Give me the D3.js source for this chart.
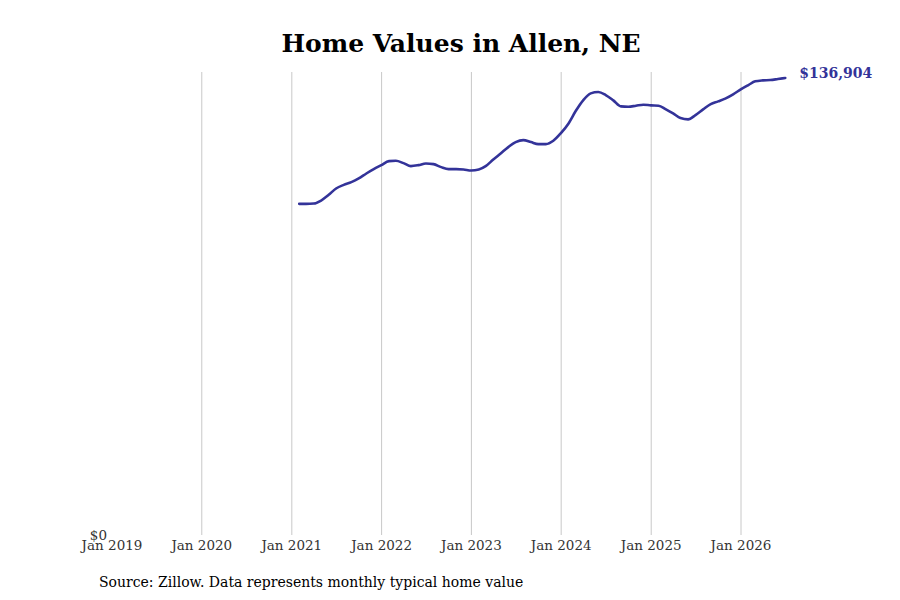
<!DOCTYPE html>
<html>
<head>
<meta charset="utf-8">
<script src="https://cdn.jsdelivr.net/npm/d3@7"></script>
<style>
  body { margin: 0; background: #fff; }
  svg { display: block; }
</style>
</head>
<body>
<div id="chart-area"></div>
<script>
// monthly typical home value, end of month, Jan 2021 onward
var startMonth = "2021-01-31"
var values = [
  99200, 99200, 99300, 100200, 101900, 103800, 104900, 105700, 106800, 108300, 109600, 110800,
  112000, 112100, 111400, 110500, 110800, 111300, 111100, 110200, 109600, 109600, 109500, 109200,
  109500, 110500, 112500, 114300, 116200, 117700, 118300, 117700, 117100, 117100, 118100, 120400,
  123300, 127000, 130300, 132300, 132700, 131800, 130200, 128400, 128300, 128600, 128900, 128700,
  128600, 127600, 126300, 124900, 124500, 125800, 127500, 129100, 129900, 130800, 132000, 133500,
  134800, 135900, 136200, 136300, 136600, 136904
]
var tickYears = [2019, 2020, 2021, 2022, 2023, 2024, 2025, 2026]

var width = 900
var height = 600
var margin = {top: 72, right: 159, bottom: 65, left: 112}

var svg = d3.select("#chart-area").append("svg")
.attr("width", width)
.attr("height", height)

var innerW = width - margin.left - margin.right
var innerH = height - margin.top - margin.bottom

var g = svg.append("g")
.attr("transform", "translate(" + margin.left + ", " + margin.top + ")")

var parse = d3.timeParse("%Y-%m-%d")
var start = parse(startMonth)
var data = values.map((v, i) => {
	var d = new Date(start.getFullYear(), start.getMonth() + i + 1, 0)
	return {date: d, value: v}
})

var x = d3.scaleTime()
.domain([new Date(2019, 0, 1), new Date(2026, 0, 1)])
.range([0, 629])

var y = d3.scaleLinear()
.domain([0, 136904 * 463 / 457])
.range([innerH, 0])

// Title
svg.append("text")
.attr("x", 461)
.attr("y", 52)
.attr("text-anchor", "middle")
.attr("font-family", "DejaVu Serif")
.attr("font-weight", "bold")
.attr("font-size", "25px")
.style("fill", "black")
.text("Home Values in Allen, NE")

// grid
g.selectAll("line.grid")
.data(tickYears.slice(1))
.enter().append("line")
.attr("class", "grid")
.attr("x1", d => x(new Date(d, 0, 1)))
.attr("x2", d => x(new Date(d, 0, 1)))
.attr("y1", 0)
.attr("y2", innerH)
.attr("stroke", "#c8c8c8")
.attr("stroke-width", 1)

// x ticks
g.selectAll("text.xtick")
.data(tickYears)
.enter().append("text")
.attr("class", "xtick")
.attr("x", d => x(new Date(d, 0, 1)))
.attr("y", innerH + 15)
.attr("text-anchor", "middle")
.attr("font-family", "DejaVu Serif")
.attr("font-size", "13.5px")
.style("fill", "#333")
.text(d => "Jan " + d)

// y label
g.append("text")
.attr("x", -5)
.attr("y", innerH + 5)
.attr("text-anchor", "end")
.attr("font-family", "DejaVu Serif")
.attr("font-size", "13.5px")
.style("fill", "#333")
.text(d3.format("$,")(y.domain()[0]))

var line = d3.line()
.x(d => x(d.date))
.y(d => y(d.value))
.curve(d3.curveMonotoneX)

g.append("path")
.datum(data)
.attr("d", line)
.attr("fill", "none")
.attr("stroke", "#333399")
.attr("stroke-width", 2.6)
.attr("stroke-linejoin", "round")
.attr("stroke-linecap", "round")

var last = data[data.length - 1]
g.append("text")
.attr("x", x(last.date) + 14)
.attr("y", y(last.value))
.attr("font-family", "DejaVu Serif")
.attr("font-weight", "bold")
.attr("font-size", "14px")
.style("fill", "#333399")
.text(d3.format("$,")(last.value))

// source
svg.append("text")
.attr("x", 99)
.attr("y", 587)
.attr("font-family", "DejaVu Serif")
.attr("font-size", "14px")
.style("fill", "black")
.text("Source: Zillow. Data represents monthly typical home value")
</script>
</body>
</html>
